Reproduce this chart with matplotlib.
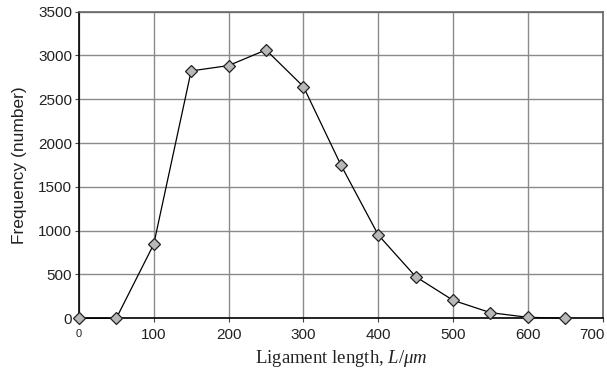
import matplotlib
matplotlib.use("Agg")
import matplotlib.pyplot as plt
from matplotlib.transforms import ScaledTranslation

plt.rcParams["mathtext.fontset"] = "custom"
plt.rcParams["mathtext.it"] = "Liberation Serif:italic"
plt.rcParams["mathtext.rm"] = "Liberation Serif"

lengths = [0, 50, 100, 150, 200, 250, 300, 350, 400, 450, 500, 550, 600, 650]
frequency = [0, 0, 845, 2823, 2884, 3063, 2644, 1751, 951, 475, 205, 64, 11, 0]
xticks = [0, 100, 200, 300, 400, 500, 600, 700]
yticks = [0, 500, 1000, 1500, 2000, 2500, 3000, 3500]

fig = plt.figure(figsize=(6.07, 3.74), dpi=100)
ax = fig.add_axes([0.130, 0.149, 0.863, 0.820])

ax.plot(lengths, frequency, color="black", linewidth=0.9, marker="D",
        markersize=6, markerfacecolor="#b8b8b8", markeredgecolor="#222222",
        markeredgewidth=0.9, zorder=3, clip_on=False)

ax.set_xlim(0, 700)
ax.set_ylim(0, 3500)
ax.set_xticks(xticks)
ax.set_yticks(yticks)
ax.set_xticklabels([""] + [str(t) for t in xticks[1:]])
ax.grid(True, color="#8a8a8a", linewidth=1.0)
ax.set_axisbelow(True)

for s in ["left", "bottom"]:
    ax.spines[s].set_color("black")
    ax.spines[s].set_linewidth(1.2)
for s in ["top", "right"]:
    ax.spines[s].set_color("#666666")
    ax.spines[s].set_linewidth(1.2)

for lab in ax.get_xticklabels() + ax.get_yticklabels():
    lab.set_fontfamily("Liberation Sans")
    lab.set_fontsize(11)
    lab.set_color("#222222")
ax.tick_params(axis="both", length=3, width=0.8, color="#444444")
ax.tick_params(axis="x", pad=4)
ax.tick_params(axis="y", pad=2)

last = ax.get_xticklabels()[-1]
last.set_transform(last.get_transform() + ScaledTranslation(-11 / 100, 0, fig.dpi_scale_trans))

ax.text(0, -0.035, "0", transform=ax.get_xaxis_transform(), ha="center", va="top",
        fontfamily="Liberation Sans", fontsize=8, color="#222222")

ax.set_ylabel("Frequency (number)", fontfamily="Liberation Sans", fontsize=12.5,
              color="#222222", labelpad=8)
ax.set_xlabel(r"Ligament length, $\mathit{L/\mu m}$", fontfamily="Liberation Serif",
              fontsize=13.5, color="#222222", labelpad=4)

fig.savefig("out.png", dpi=100)
